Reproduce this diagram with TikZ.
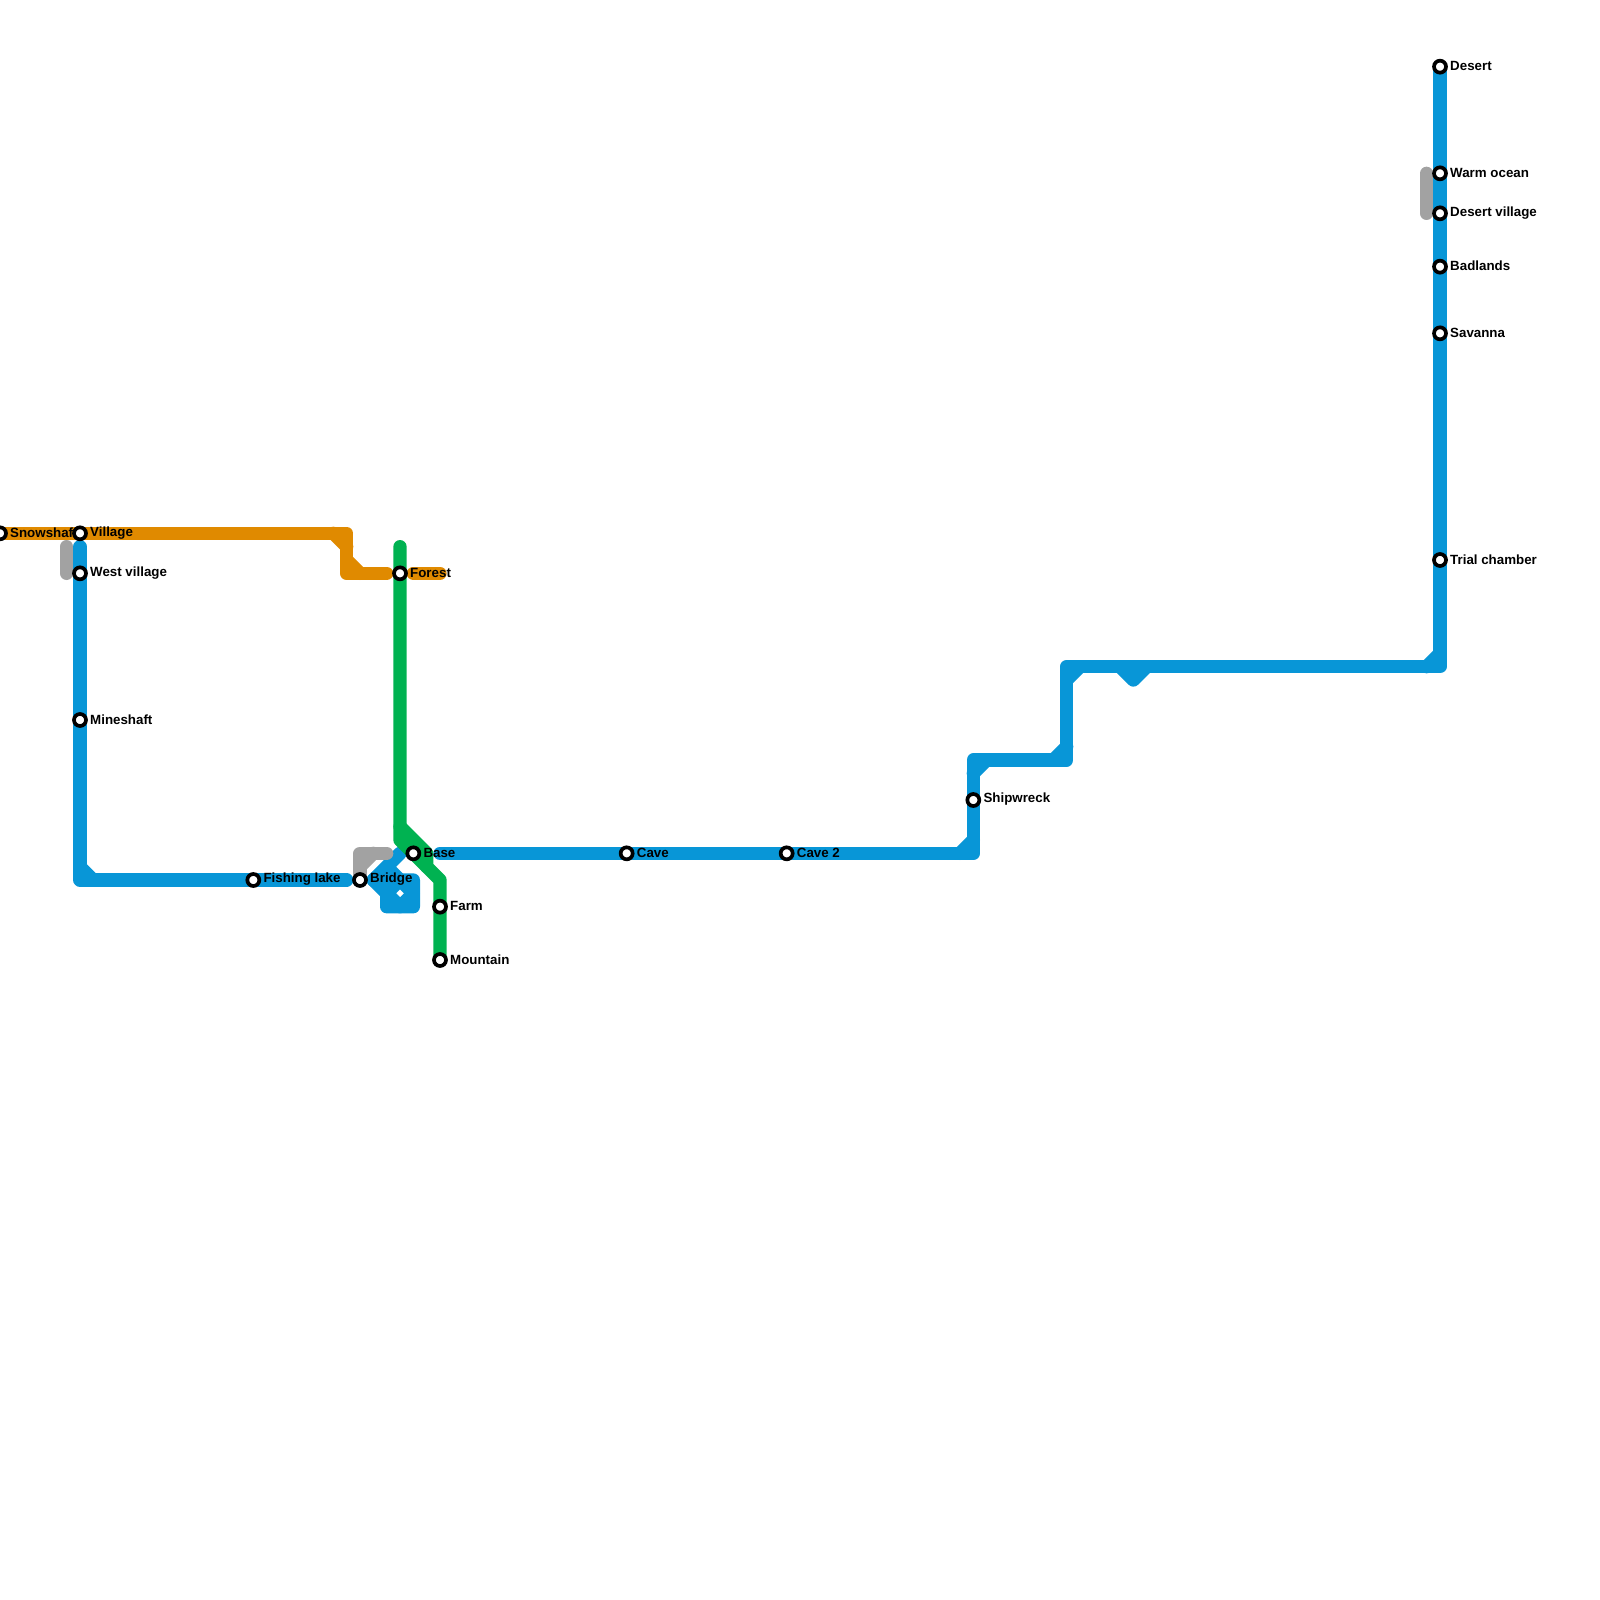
\documentclass[tikz,border=0pt]{standalone}
\usepackage{fontspec}
\setmainfont{Liberation Sans}
\definecolor{mblue}{HTML}{0896D7}
\definecolor{morange}{HTML}{E08A00}
\definecolor{mgreen}{HTML}{00B251}
\definecolor{mgrey}{HTML}{A2A2A2}
\tikzset{
  lineseg/.style={line width=13.33pt,line cap=round,line join=round},
  blueline/.style={lineseg,draw=mblue},
  orangeline/.style={lineseg,draw=morange},
  greenline/.style={lineseg,draw=mgreen},
  greyline/.style={lineseg,draw=mgrey},
  stn/.style={circle,draw=black,fill=white,line width=3.7pt,minimum size=12pt,inner sep=0pt},
  lbl/.style={anchor=west,inner sep=0pt,font=\fontsize{13.33}{13.33}\selectfont\bfseries,text=black},
}
\begin{document}
\begin{tikzpicture}[x=1pt,y=-1pt]
\useasboundingbox (0,0) rectangle (1600,1600);
% station coordinates
\coordinate (snowshaft) at (0,533.33);
\coordinate (village) at (80,533.33);
\coordinate (westvillage) at (80,573.33);
\coordinate (mineshaft) at (80,720);
\coordinate (fishinglake) at (253.33,880);
\coordinate (bridge) at (360,880);
\coordinate (forest) at (400,573.33);
\coordinate (base) at (413.33,853.33);
\coordinate (farm) at (440,906.67);
\coordinate (mountain) at (440,960);
\coordinate (cave) at (626.67,853.33);
\coordinate (cavetwo) at (786.67,853.33);
\coordinate (shipwreck) at (973.33,800);
\coordinate (desert) at (1440,66.67);
\coordinate (warmocean) at (1440,173.33);
\coordinate (desertvillage) at (1440,213.33);
\coordinate (badlands) at (1440,266.67);
\coordinate (savanna) at (1440,333.33);
\coordinate (trialchamber) at (1440,560);
% blue
\draw[blueline] (80,546.67) -- (westvillage) -- (mineshaft) -- (80,880) -- (fishinglake) -- (346.67,880);
\draw[blueline] (80,866.67) -- (93.33,880);
\draw[blueline] (400,853.33) -- (373.33,880) -- (386.67,893.33) -- (386.67,906.67) -- (413.33,906.67) -- (413.33,880) -- (400,880) -- (386.67,866.67);
\draw[blueline] (373.33,880) -- (400,880);
\draw[blueline] (386.67,893.33) -- (400,880) -- (413.33,893.33) -- (400,906.67) -- cycle;
\draw[blueline] (440,853.33) -- (cave) -- (cavetwo) -- (973.33,853.33) -- (shipwreck) -- (973.33,760) -- (1066.67,760) -- (1066.67,666.67) -- (1440,666.67) -- (trialchamber) -- (savanna) -- (badlands) -- (desertvillage) -- (warmocean) -- (desert);
\draw[blueline] (960,853.33) -- (973.33,840);
\draw[blueline] (973.33,773.33) -- (986.67,760);
\draw[blueline] (1053.33,760) -- (1066.67,746.67);
\draw[blueline] (1066.67,680) -- (1080,666.67);
\draw[blueline] (1120,666.67) -- (1133.33,680) -- (1146.67,666.67);
\draw[blueline] (1426.67,666.67) -- (1440,653.33);
% orange
\draw[orangeline] (snowshaft) -- (346.67,533.33) -- (346.67,573.33) -- (386.67,573.33);
\draw[orangeline] (333.33,533.33) -- (346.67,546.67);
\draw[orangeline] (346.67,560) -- (360,573.33);
\draw[orangeline] (413.33,573.33) -- (440,573.33);
% grey
\draw[greyline] (66.67,546.67) -- (66.67,573.33);
\draw[greyline] (1426.67,173.33) -- (1426.67,213.33);
\draw[greyline] (bridge) -- (360,853.33) -- (386.67,853.33);
\draw[greyline] (360,866.67) -- (373.33,853.33);
% green
\draw[greenline] (400,546.67) -- (forest) -- (400,840) -- (426.67,866.67);
\draw[greenline] (400,826.67) -- (426.67,853.33) -- (426.67,866.67) -- (440,880) -- (farm) -- (mountain);
% labels
\foreach \p/\t in {snowshaft/Snowshaft,village/Village,westvillage/West village,mineshaft/Mineshaft,fishinglake/Fishing lake,bridge/Bridge,forest/Forest,base/Base,farm/Farm,mountain/Mountain,cave/Cave,cavetwo/Cave 2,shipwreck/Shipwreck,desert/Desert,warmocean/Warm ocean,desertvillage/Desert village,badlands/Badlands,savanna/Savanna,trialchamber/Trial chamber}
  \node[lbl] (l\p) at ([xshift=10pt,yshift=0.5pt]\p) {\t};
% stations
\foreach \p in {snowshaft,village,westvillage,mineshaft,fishinglake,bridge,forest,base,farm,mountain,cave,cavetwo,shipwreck,desert,warmocean,desertvillage,badlands,savanna,trialchamber}
  \node[stn] (s\p) at (\p) {};
\end{tikzpicture}
\end{document}
